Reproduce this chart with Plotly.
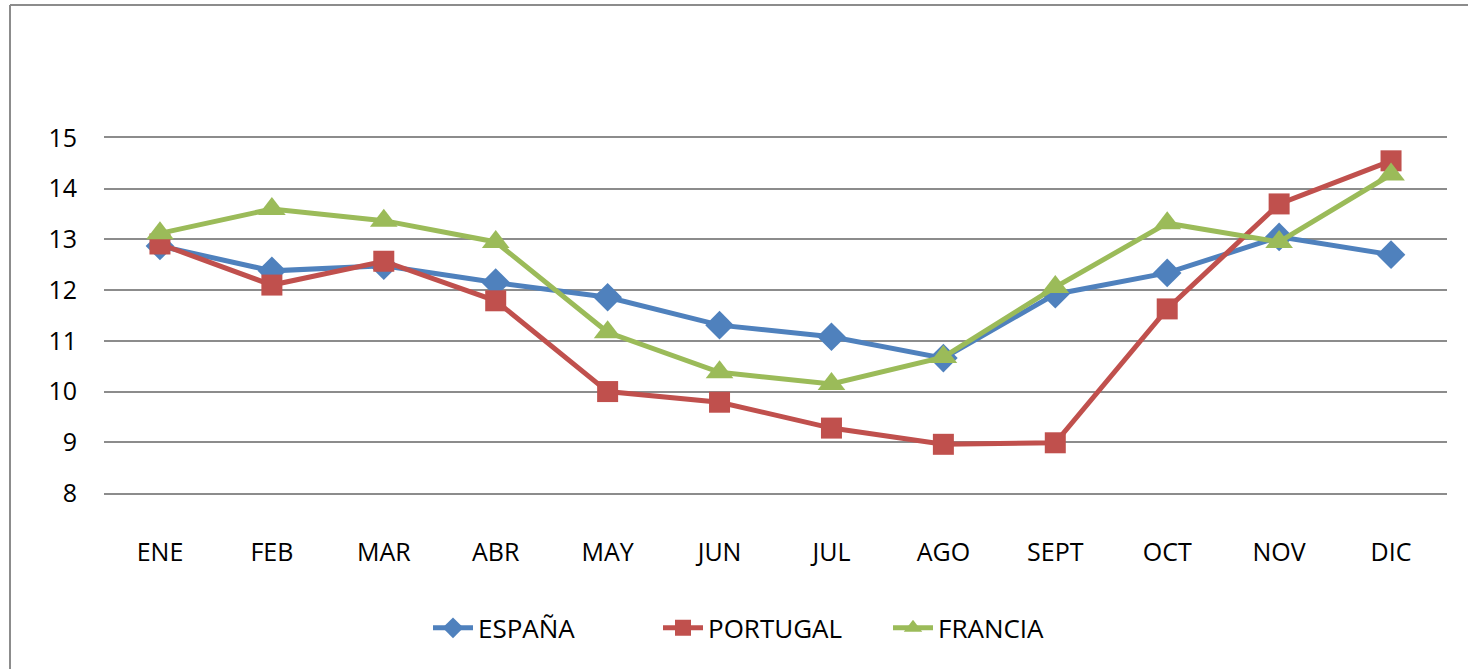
"""
Monthly values for Spain, Portugal and France as a line chart.
"""
import plotly.graph_objects as go

months = ['ENE', 'FEB', 'MAR', 'ABR', 'MAY', 'JUN', 'JUL', 'AGO', 'SEPT', 'OCT', 'NOV', 'DIC']

espana = [12.87, 12.38, 12.48, 12.15, 11.86, 11.31, 11.08, 10.66, 11.92, 12.34, 13.05, 12.70]
portugal = [12.91, 12.10, 12.57, 11.79, 10.00, 9.79, 9.28, 8.96, 8.99, 11.63, 13.70, 14.55]
francia = [13.12, 13.60, 13.37, 12.95, 11.17, 10.38, 10.15, 10.68, 12.06, 13.32, 12.95, 14.28]

series = [
    ('ESPAÑA', espana, '#4F81BD', 'diamond', 22),
    ('PORTUGAL', portugal, '#C0504D', 'square', 21),
    ('FRANCIA', francia, '#9BBB59', 'triangle-up', 24),
]

fig = go.Figure()

for name, values, color, symbol, size in series:
    fig.add_trace(go.Scatter(
        x=months,
        y=values,
        mode='lines+markers',
        name=name,
        line=dict(color=color, width=5),
        marker=dict(symbol=symbol, size=size, color=color, line=dict(width=0)),
    ))

fig.update_layout(
    width=1468,
    height=669,
    margin=dict(l=104, r=21, t=138, b=176),
    paper_bgcolor='white',
    plot_bgcolor='white',
    font=dict(family='Open Sans, Noto Sans, sans-serif', size=25, color='black'),
    showlegend=True,
    legend=dict(
        orientation='h',
        xanchor='left',
        x=(428 - 104) / 1343,
        yanchor='middle',
        y=-0.38,
        font=dict(size=26),
        itemwidth=40,
        entrywidth=175,
        tracegroupgap=0,
    ),
    xaxis=dict(
        type='category',
        range=[-0.5, 11.5],
        showgrid=False,
        showline=True,
        mirror=True,
        linecolor='#8c8c8c',
        linewidth=2,
        zeroline=False,
        ticks='',
        ticklabelstandoff=36,
    ),
    yaxis=dict(
        range=[8, 15],
        dtick=1,
        showgrid=True,
        gridcolor='#8c8c8c',
        gridwidth=2,
        zeroline=False,
        showline=False,
        ticks='',
        ticklabelstandoff=26,
    ),
)

# outer chart frame (left and top edges visible in the original)
fig.add_shape(type='line', xref='paper', yref='paper',
              x0=(10 - 104) / 1343, x1=(1468 - 104) / 1343,
              y0=(493 - 5) / 355, y1=(493 - 5) / 355,
              line=dict(color='#8c8c8c', width=2))
fig.add_shape(type='line', xref='paper', yref='paper',
              x0=(10 - 104) / 1343, x1=(10 - 104) / 1343,
              y0=(493 - 5) / 355, y1=(493 - 680) / 355,
              line=dict(color='#8c8c8c', width=2))

fig.write_html("out.html", config={'displayModeBar': False},
               post_script="document.body.style.margin = '0';")
